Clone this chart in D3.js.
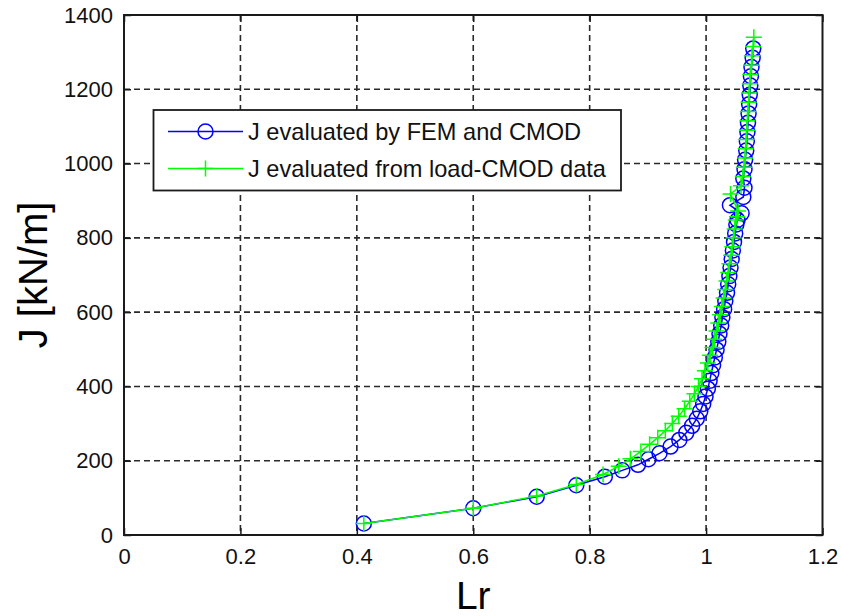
<!DOCTYPE html>
<html>
<head>
<meta charset="utf-8">
<script src="https://cdn.jsdelivr.net/npm/d3@7"></script>
<style>
  html, body { margin: 0; padding: 0; background: #fff; }
  svg { display: block; font-family: "Liberation Sans", Arial, sans-serif; }
</style>
</head>
<body>
<svg id="chart" width="841" height="616"></svg>
<script>
// J-integral vs. ligament ratio Lr, two evaluation methods

// J evaluated by FEM and CMOD: [Lr, J (kN/m)]
const femLr = [0.412, 0.600, 0.709, 0.777, 0.826, 0.856, 0.883, 0.901, 0.920, 0.939,
  0.954, 0.966, 0.976, 0.984, 0.990, 0.995, 0.999, 1.003, 1.006, 1.009,
  1.012, 1.015, 1.018, 1.021, 1.023, 1.026, 1.028, 1.031, 1.033, 1.036,
  1.038, 1.040, 1.042, 1.044, 1.046, 1.048, 1.050, 1.052, 1.054, 1.061,
  1.041, 1.064, 1.066, 1.064, 1.066, 1.067, 1.069, 1.070, 1.071, 1.072,
  1.073, 1.074, 1.075, 1.076, 1.077, 1.078, 1.080, 1.081];
const femJ = [31, 72, 103, 134, 157, 174, 189, 204, 220, 238,
  256, 275, 294, 313, 333, 353, 373, 394, 415, 436,
  457, 478, 499, 520, 542, 564, 586, 608, 630, 652,
  675, 697, 720, 743, 766, 789, 812, 836, 848, 866,
  888, 910, 935, 960, 985, 1010, 1035, 1060, 1085, 1110,
  1135, 1160, 1185, 1210, 1235, 1260, 1285, 1310];

// J evaluated from load-CMOD data: [Lr, J (kN/m)]
const cmodLr = [0.412, 0.600, 0.709, 0.777, 0.823, 0.850, 0.870, 0.888, 0.903, 0.917,
  0.930, 0.942, 0.953, 0.963, 0.972, 0.980, 0.987, 0.993, 0.998, 1.003,
  1.007, 1.011, 1.014, 1.018, 1.021, 1.024, 1.027, 1.030, 1.033, 1.035,
  1.038, 1.040, 1.043, 1.045, 1.047, 1.049, 1.051, 1.053, 1.055, 1.042,
  1.060, 1.063, 1.065, 1.067, 1.068, 1.069, 1.070, 1.071, 1.072, 1.073,
  1.074, 1.075, 1.076, 1.078, 1.079, 1.081, 1.082];
const cmodJ = [31, 72, 105, 136, 163, 185, 205, 225, 244, 262,
  281, 300, 320, 340, 360, 380, 400, 421, 442, 463,
  484, 505, 527, 549, 571, 593, 615, 638, 661, 684,
  707, 730, 753, 776, 800, 824, 848, 857, 872, 918,
  940, 965, 990, 1015, 1040, 1065, 1090, 1115, 1140, 1165,
  1190, 1215, 1240, 1265, 1290, 1315, 1340];

const xTicks = [0, 0.2, 0.4, 0.6, 0.8, 1, 1.2];
const xTickLabels = ["0", "0.2", "0.4", "0.6", "0.8", "1", "1.2"];
const yTicks = [0, 200, 400, 600, 800, 1000, 1200, 1400];
const yTickLabels = ["0", "200", "400", "600", "800", "1000", "1200", "1400"];

const seriesNames = ["J evaluated by FEM and CMOD", "J evaluated from load-CMOD data"];
const xLabel = "Lr";
const yLabel = "J [kN/m]";

(function draw() {
  const BLUE = "#0000ff", GREEN = "#00ff00", INK = "#1a1a1a";

  const svg = d3.select("#chart");
  const pLeft = 124, pRight = 822.5, pTop = 15, pBottom = 535;

  const x = d3.scaleLinear().domain([0, 1.2]).range([pLeft, pRight]);
  const y = d3.scaleLinear().domain([0, 1400]).range([pBottom, pTop]);

  // grid
  const grid = svg.append("g").attr("stroke", "#2a2a2a").attr("stroke-width", 1.6)
    .attr("stroke-dasharray", "6,4");
  grid.selectAll("line.gx").data(xTicks.slice(1, -1)).join("line")
    .attr("x1", d => x(d)).attr("x2", d => x(d)).attr("y1", pTop).attr("y2", pBottom);
  grid.selectAll("line.gy").data(yTicks.slice(1, -1)).join("line")
    .attr("y1", d => y(d)).attr("y2", d => y(d)).attr("x1", pLeft).attr("x2", pRight);

  // axes
  function styleAxis(g) {
    g.select(".domain").remove();
    g.selectAll(".tick line").attr("stroke", INK).attr("stroke-width", 1.5);
    g.selectAll(".tick text").attr("fill", "#111").attr("font-size", 22)
      .attr("font-family", "Liberation Sans, Arial, sans-serif");
  }
  const xAxis = d3.axisBottom(x).tickValues(xTicks)
    .tickFormat((d, i) => xTickLabels[i]).tickSizeInner(-7).tickSizeOuter(0).tickPadding(13);
  const yAxis = d3.axisLeft(y).tickValues(yTicks)
    .tickFormat((d, i) => yTickLabels[i]).tickSizeInner(-7).tickSizeOuter(0).tickPadding(11);
  svg.append("g").attr("transform", `translate(0,${pBottom})`).call(xAxis).call(styleAxis);
  svg.append("g").attr("transform", `translate(${pLeft},0)`).call(yAxis).call(styleAxis);
  svg.append("g").attr("transform", `translate(0,${pTop})`)
    .call(d3.axisTop(x).tickValues(xTicks).tickFormat("").tickSizeInner(-7).tickSizeOuter(0))
    .call(styleAxis);
  svg.append("g").attr("transform", `translate(${pRight},0)`)
    .call(d3.axisRight(y).tickValues(yTicks).tickFormat("").tickSizeInner(-7).tickSizeOuter(0))
    .call(styleAxis);

  // frame
  svg.append("rect").attr("x", pLeft).attr("y", pTop)
    .attr("width", pRight - pLeft).attr("height", pBottom - pTop)
    .attr("fill", "none").attr("stroke", INK).attr("stroke-width", 2);

  // series
  const line = d3.line().x(d => x(d[0])).y(d => y(d[1]));
  const fem = femLr.map((v, i) => [v, femJ[i]]);
  const cmod = cmodLr.map((v, i) => [v, cmodJ[i]]);

  const plot = svg.append("g");
  plot.append("path").datum(fem).attr("d", line)
    .attr("fill", "none").attr("stroke", BLUE).attr("stroke-width", 1.5);
  plot.selectAll("circle.fem").data(fem).join("circle")
    .attr("cx", d => x(d[0])).attr("cy", d => y(d[1])).attr("r", 7.5)
    .attr("fill", "none").attr("stroke", BLUE).attr("stroke-width", 1.5);

  const plusPath = (cx, cy, s) => `M${cx - s},${cy}H${cx + s}M${cx},${cy - s}V${cy + s}`;
  plot.append("path").datum(cmod).attr("d", line)
    .attr("fill", "none").attr("stroke", GREEN).attr("stroke-width", 1.5);
  plot.selectAll("path.cmod").data(cmod).join("path")
    .attr("d", d => plusPath(x(d[0]), y(d[1]), 8))
    .attr("fill", "none").attr("stroke", GREEN).attr("stroke-width", 1.5);

  // legend
  const lg = svg.append("g");
  lg.append("rect").attr("x", 153.5).attr("y", 110).attr("width", 467.5).attr("height", 80.5)
    .attr("fill", "#fff").attr("stroke", INK).attr("stroke-width", 1.8);
  const rows = [
    { name: seriesNames[0], color: BLUE, cy: 131.5, marker: "circle" },
    { name: seriesNames[1], color: GREEN, cy: 168.5, marker: "plus" }
  ];
  rows.forEach(r => {
    lg.append("line").attr("x1", 168).attr("x2", 243).attr("y1", r.cy).attr("y2", r.cy)
      .attr("stroke", r.color).attr("stroke-width", 1.5);
    if (r.marker === "circle") {
      lg.append("circle").attr("cx", 205.5).attr("cy", r.cy).attr("r", 7.5)
        .attr("fill", "none").attr("stroke", r.color).attr("stroke-width", 1.5);
    } else {
      lg.append("path").attr("d", plusPath(205.5, r.cy, 8))
        .attr("stroke", r.color).attr("stroke-width", 1.5);
    }
    lg.append("text").attr("x", 248).attr("y", r.cy).attr("dy", "0.35em")
      .attr("font-size", 23.6).attr("fill", "#111").text(r.name);
  });

  // axis titles
  svg.append("text").attr("x", (pLeft + pRight) / 2).attr("y", 609)
    .attr("text-anchor", "middle").attr("font-size", 39).attr("fill", "#000").text(xLabel);
  svg.append("text").attr("transform", `translate(47,${(pTop + pBottom) / 2}) rotate(-90)`)
    .attr("text-anchor", "middle").attr("font-size", 40).attr("fill", "#000").text(yLabel);
})();
</script>
</body>
</html>
